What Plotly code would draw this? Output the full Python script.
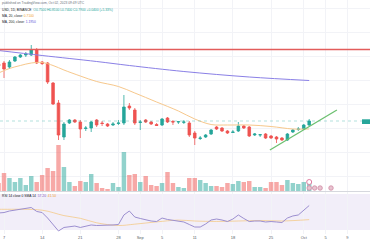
import plotly.graph_objects as go
import pandas as pd

# ---------------- data ----------------
dates = pd.date_range("2023-08-06", "2023-10-02", freq="D")

open_p = [1.36, 1.37, 1.33, 1.39, 1.43, 1.45, 1.45, 1.50, 1.38, 1.37, 1.17, 0.97, 0.63, 0.77, 0.80,
          0.78, 0.715, 0.72, 0.80, 0.77, 0.76, 0.75, 0.765, 0.77, 0.94, 0.90, 0.775, 0.80, 0.78, 0.755,
          0.75, 0.82, 0.785, 0.78, 0.777, 0.77, 0.67, 0.615, 0.63, 0.66, 0.73, 0.72, 0.69, 0.675, 0.69,
          0.74, 0.73, 0.65, 0.65, 0.66, 0.64, 0.63, 0.62, 0.60, 0.68, 0.705, 0.71, 0.75]
close_p = [1.34, 1.31, 1.38, 1.43, 1.45, 1.46, 1.50, 1.37, 1.365, 1.18, 0.96, 0.65, 0.76, 0.80, 0.78,
           0.71, 0.72, 0.78, 0.75, 0.765, 0.74, 0.76, 0.77, 0.93, 0.92, 0.77, 0.78, 0.78, 0.76, 0.745,
           0.81, 0.78, 0.78, 0.783, 0.78, 0.65, 0.62, 0.62, 0.65, 0.70, 0.71, 0.69, 0.67, 0.68, 0.74,
           0.72, 0.64, 0.66, 0.653, 0.62, 0.62, 0.61, 0.60, 0.66, 0.70, 0.71, 0.75, 0.79]
high_p = [1.38, 1.39, 1.40, 1.44, 1.46, 1.48, 1.55, 1.52, 1.39, 1.38, 1.18, 1.00, 0.78, 0.81, 0.81,
          0.80, 0.74, 0.79, 0.81, 0.79, 0.77, 0.78, 0.80, 1.05, 0.97, 0.92, 0.80, 0.81, 0.79, 0.77,
          0.82, 0.83, 0.80, 0.79, 0.80, 0.79, 0.69, 0.64, 0.66, 0.71, 0.74, 0.73, 0.70, 0.70, 0.78,
          0.75, 0.74, 0.67, 0.66, 0.67, 0.65, 0.64, 0.63, 0.67, 0.71, 0.73, 0.76, 0.81]
low_p = [1.33, 1.22, 1.31, 1.38, 1.42, 1.43, 1.44, 1.36, 1.35, 1.16, 0.95, 0.60, 0.60, 0.76, 0.77,
         0.62, 0.69, 0.68, 0.73, 0.74, 0.73, 0.74, 0.75, 0.75, 0.90, 0.75, 0.70, 0.77, 0.75, 0.74,
         0.74, 0.77, 0.75, 0.76, 0.76, 0.63, 0.55, 0.60, 0.62, 0.65, 0.70, 0.68, 0.66, 0.67, 0.68,
         0.71, 0.63, 0.64, 0.63, 0.61, 0.61, 0.57, 0.59, 0.59, 0.67, 0.69, 0.70, 0.74]
volume = [8, 18, 13, 9, 13, 6, 15, 9, 16, 23, 20, 46, 24, 9, 5, 10, 9, 17, 8, 3, 2, 8, 4, 39, 16, 17,
          9, 15, 6, 5, 8, 19, 8, 4, 3, 13, 13, 11, 8, 5, 5, 4, 8, 7, 10, 9, 10, 4, 4, 3, 9, 9, 6,
          11, 8, 7, 9, 10]
rsi = [48.9, 49.4, 51.1, 52.2, 53.3, 53.9, 55.0, 50.6, 49.4, 43.3, 36.7, 28.9, 32.8, 33.9, 34.4,
       32.8, 33.9, 35.6, 35.0, 35.0, 35.0, 35.6, 36.1, 46.7, 51.1, 44.4, 42.8, 41.1, 40.0, 39.4,
       43.3, 41.7, 40.6, 40.0, 38.9, 36.1, 33.3, 33.3, 36.7, 41.1, 42.2, 41.1, 39.4, 42.2, 46.7,
       42.8, 39.4, 40.0, 40.0, 38.9, 39.4, 38.9, 38.3, 43.3, 45.6, 46.7, 52.2, 57.2]

ma200_dates = ["2023-08-06", "2023-08-14", "2023-08-24", "2023-08-30", "2023-09-09", "2023-09-21", "2023-10-02"]
ma200_vals = [1.495, 1.445, 1.385, 1.345, 1.285, 1.23, 1.195]
ma20_dates = ["2023-08-06", "2023-08-08", "2023-08-10", "2023-08-12", "2023-08-14", "2023-08-16",
              "2023-08-18", "2023-08-21", "2023-08-24", "2023-08-28", "2023-08-31", "2023-09-04",
              "2023-09-08", "2023-09-11", "2023-09-14", "2023-09-17", "2023-09-21", "2023-09-25",
              "2023-09-29", "2023-10-02"]
ma20_vals = [1.27, 1.315, 1.345, 1.37, 1.375, 1.345, 1.30, 1.24, 1.185, 1.135, 1.07, 0.98, 0.89,
             0.81, 0.755, 0.75, 0.75, 0.735, 0.71, 0.71]
rsi_ma_dates = ["2023-08-06", "2023-08-07", "2023-08-14", "2023-08-18", "2023-08-21", "2023-08-24",
                "2023-08-28", "2023-08-31", "2023-09-04", "2023-09-08", "2023-09-11", "2023-09-15",
                "2023-09-19", "2023-09-23", "2023-09-27", "2023-10-02"]
rsi_ma_vals = [53, 53, 52, 46, 43, 38, 35, 36.5, 39, 41, 40, 39.5, 40, 40.5, 40, 41.5]

resistance_level = 1.505
trend_dates = ["2023-09-24 19:00", "2023-10-07 02:00"]
trend_vals = [0.50, 0.90]
event_dates = ["2023-10-03", "2023-10-04", "2023-10-06"]

tick_dates = ["2023-08-07", "2023-08-14", "2023-08-21", "2023-08-28", "2023-09-01", "2023-09-05",
              "2023-09-11", "2023-09-18", "2023-09-25", "2023-10-01", "2023-10-05", "2023-10-09"]
tick_text = ["7", "14", "21", "28", "Sep", "5", "11", "18", "25", "Oct", "5", "9"]

# ---------------- styling ----------------
UP, DOWN = "#26a69a", "#ef5350"
W, H = 370, 250
PX_PER_DAY = 5.45
X0_PX = 4.0          # pixel of 2023-08-07
base = pd.Timestamp("2023-08-07")
x_start = base + pd.Timedelta(days=(0 - X0_PX) / PX_PER_DAY)
x_end = base + pd.Timedelta(days=(W - X0_PX) / PX_PER_DAY)

vol_colors = [("rgba(38,166,154,0.5)" if c >= o else "rgba(239,83,80,0.5)") for o, c in zip(open_p, close_p)]

fig = go.Figure()
fig.add_trace(go.Candlestick(
    x=dates, open=open_p, high=high_p, low=low_p, close=close_p,
    increasing=dict(line=dict(color=UP, width=0.8), fillcolor=UP),
    decreasing=dict(line=dict(color=DOWN, width=0.8), fillcolor=DOWN),
    xaxis="x", yaxis="y", showlegend=False, hoverinfo="skip"))
fig.add_trace(go.Scatter(x=ma200_dates, y=ma200_vals, mode="lines", line=dict(color="#8a80e6", width=1, shape="spline"),
                         xaxis="x", yaxis="y", showlegend=False))
fig.add_trace(go.Scatter(x=ma20_dates, y=ma20_vals, mode="lines", line=dict(color="#f7c88c", width=1, shape="spline"),
                         xaxis="x", yaxis="y", showlegend=False))
fig.add_trace(go.Bar(x=dates, y=volume, marker=dict(color=vol_colors, line=dict(width=0)),
                     width=0.82 * 86400000, xaxis="x", yaxis="y3", showlegend=False))
fig.add_trace(go.Scatter(x=[dates[-1]], y=[9], mode="markers",
                         marker=dict(size=5, color="white", line=dict(color="#e07aa0", width=1)),
                         xaxis="x", yaxis="y3", showlegend=False))
fig.add_trace(go.Scatter(x=[dates[-1]] + event_dates, y=[3, 3, 3, 3], mode="markers",
                         marker=dict(size=4.5, color="#e8c4d0", line=dict(color="#d08aa5", width=0.8)),
                         xaxis="x", yaxis="y3", showlegend=False))
fig.add_trace(go.Scatter(x=rsi_ma_dates, y=rsi_ma_vals, mode="lines", line=dict(color="rgba(245,190,100,0.6)", width=1, shape="spline"),
                         xaxis="x2", yaxis="y2", showlegend=False))
fig.add_trace(go.Scatter(x=dates, y=rsi, mode="lines", line=dict(color="#9c8fd0", width=1),
                         xaxis="x2", yaxis="y2", showlegend=False))

PLOT_H = H - 16
def py(px):
    return (PLOT_H - px) / PLOT_H

main_dom = [py(191), 1]
rsi_dom = [0, py(192)]

grid_col = "#f2f3f7"
fig.update_layout(
    width=W, height=H, margin=dict(l=0, r=0, t=0, b=16),
    paper_bgcolor="white", plot_bgcolor="white", showlegend=False,
    boxgap=0.32,
    xaxis=dict(type="date", range=[x_start, x_end], domain=[0, 1], anchor="y",
               rangeslider=dict(visible=False), showticklabels=False,
               tickvals=tick_dates, showgrid=True, gridcolor=grid_col, gridwidth=1, zeroline=False, showline=False),
    xaxis2=dict(type="date", range=[x_start, x_end], domain=[0, 1], anchor="y2", matches="x",
                tickvals=tick_dates, ticktext=tick_text, ticks="",
                tickfont=dict(family="Liberation Sans, Arial", size=4, color="#555b66"),
                showgrid=True, gridcolor=grid_col, gridwidth=1, zeroline=False, showline=False),
    yaxis=dict(domain=main_dom, range=[2 - 1.91, 2.0], showticklabels=False,
               showgrid=True, gridcolor=grid_col, tick0=2 - 0.083, dtick=0.24, zeroline=False),
    yaxis3=dict(overlaying="y", range=[0, 191], showticklabels=False, showgrid=False, zeroline=False),
    yaxis2=dict(domain=rsi_dom, range=[25.56, 72.22], showticklabels=False, showgrid=False, zeroline=False),
)

shapes = [
    dict(type="rect", xref="x2 domain", x0=0, x1=1, yref="y2", y0=30, y1=70,
         fillcolor="rgba(126,87,194,0.10)", line=dict(width=0), layer="below"),
    dict(type="line", xref="paper", x0=0, x1=1, yref="paper", y0=py(191.5), y1=py(191.5),
         line=dict(color="#d6d8de", width=1)),
    dict(type="line", xref="x domain", x0=0, x1=1, yref="y", y0=resistance_level, y1=resistance_level,
         line=dict(color="#e35d5b", width=1.4)),
    dict(type="line", xref="x domain", x0=0, x1=1, yref="y", y0=close_p[-1], y1=close_p[-1],
         line=dict(color="rgba(38,166,154,0.35)", width=1, dash="dot")),
    dict(type="line", xref="x", x0=trend_dates[0], x1=trend_dates[1], yref="y", y0=trend_vals[0], y1=trend_vals[1],
         line=dict(color="#6cc070", width=1.3)),
    dict(type="rect", xref="paper", x0=362 / W, x1=1, yref="y", y0=close_p[-1] - 0.03, y1=close_p[-1] + 0.017,
         fillcolor=UP, line=dict(width=0)),
]
fig.update_layout(shapes=shapes)

FONT = "Liberation Sans, Arial"
def txt(y_px, text, color="#131722"):
    return dict(xref="paper", yref="paper", x=0.0, y=py(y_px), xanchor="left", yanchor="middle",
                text=text, showarrow=False, font=dict(family=FONT, size=3.3, color=color))

annotations = [
    txt(3.5, "published on TradingView.com, Oct 02, 2023 09:49 UTC", "#6b6f7a"),
    txt(10, "USD, 1D, BINANCE  <span style='color:#26a69a'>O0.7500 H0.8100 L0.7400 C0.7900 +0.0400 (+5.33%)</span>"),
    txt(16, "MA, 20, close: <span style='color:#f0a030'>0.7100</span>"),
    txt(21.5, "MA, 200, close: <span style='color:#5b53d6'>1.1950</span>"),
    txt(195.5, "RSI 14 close 0 SMA 14  <span style='color:#7e57c2'>57.20</span>  <span style='color:#f0a030'>41.50</span>"),
]
fig.update_layout(annotations=annotations)

fig.write_html("out.html")
